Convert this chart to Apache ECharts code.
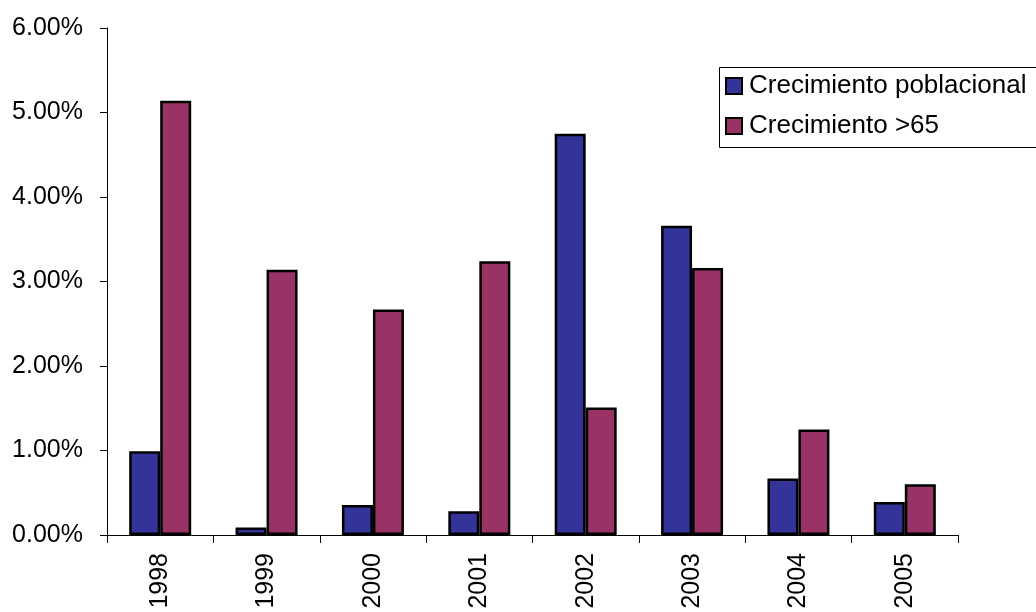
<!DOCTYPE html>
<html>
<head>
<meta charset="utf-8">
<script src="https://cdn.jsdelivr.net/npm/echarts@6/dist/echarts.min.js"></script>
<style>
  html, body { margin: 0; padding: 0; background: #fff; }
  #main { width: 1036px; height: 612px; }
</style>
</head>
<body>
<div id="main"></div>
<script>
const years = ["1998", "1999", "2000", "2001", "2002", "2003", "2004", "2005"];
const crecimientoPoblacional = [0.99, 0.09, 0.355, 0.28, 4.75, 3.66, 0.67, 0.39];
const crecimientoMayores65 = [5.14, 3.14, 2.67, 3.24, 1.51, 3.16, 1.25, 0.60];
const seriesNames = ["Crecimiento poblacional", "Crecimiento >65"];
const seriesColors = ["#333399", "#993366"];

const font = "Liberation Sans, Arial, sans-serif";

const chart = echarts.init(document.getElementById("main"), null, { renderer: "canvas" });

chart.setOption({
  animation: false,
  grid: { left: 107, right: 78, top: 28, bottom: 77, containLabel: false },
  // legend frame runs off the right edge like in the original
  graphic: [{
    type: "rect",
    left: 717,
    top: 65,
    shape: { width: 360, height: 80 },
    style: { fill: "none", stroke: "#000", lineWidth: 1 },
    silent: true
  }],
  legend: {
    orient: "vertical",
    left: 717,
    top: 65,
    padding: [8, 10, 6, 8],
    itemGap: 14,
    itemWidth: 16,
    itemHeight: 16,
    icon: "rect",
    itemStyle: { borderColor: "#000", borderWidth: 2 },
    textStyle: { fontFamily: font, fontSize: 26, lineHeight: 26, color: "#000", padding: [0, 0, 0, 2] },
    data: seriesNames
  },
  xAxis: {
    type: "category",
    data: years,
    axisLine: { lineStyle: { color: "#000", width: 1 } },
    axisTick: { show: true, length: 8, lineStyle: { color: "#000" } },
    axisLabel: { rotate: 90, margin: 18, fontFamily: font, fontSize: 25, color: "#000" }
  },
  yAxis: {
    type: "value",
    min: 0,
    max: 6,
    interval: 1,
    splitLine: { show: false },
    axisLine: { show: true, lineStyle: { color: "#000", width: 1 } },
    axisTick: { show: true, length: 7, lineStyle: { color: "#000" } },
    axisLabel: {
      margin: 24,
      fontFamily: font,
      fontSize: 25,
      color: "#000",
      formatter: v => v.toFixed(2) + "%"
    }
  },
  series: [
    {
      name: seriesNames[0],
      type: "bar",
      data: crecimientoPoblacional,
      barWidth: 31,
      barGap: "0%",
      itemStyle: { color: seriesColors[0], borderColor: "#000", borderWidth: 2.5 }
    },
    {
      name: seriesNames[1],
      type: "bar",
      data: crecimientoMayores65,
      barWidth: 31,
      barGap: "0%",
      itemStyle: { color: seriesColors[1], borderColor: "#000", borderWidth: 2.5 }
    }
  ]
});
</script>
</body>
</html>
